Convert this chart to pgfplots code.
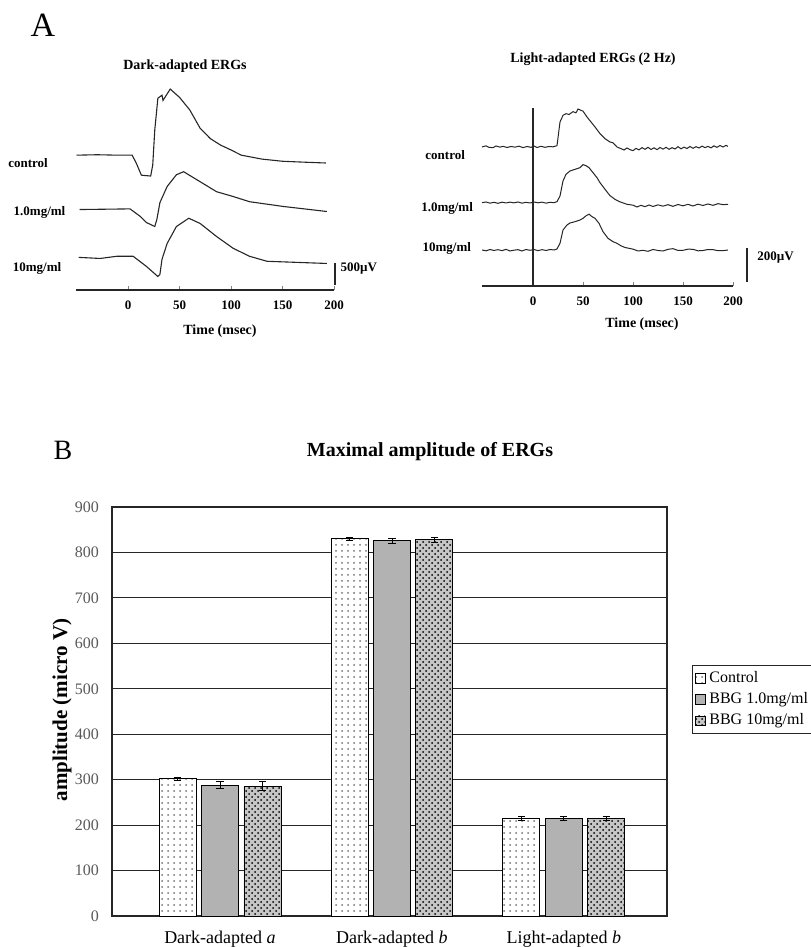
\documentclass[border=0pt]{standalone}
\usepackage{fontspec}
\setmainfont{Liberation Serif}
\usepackage{pgfplots}
\pgfplotsset{compat=1.18}
\usepackage{pgfplotstable}
\usetikzlibrary{patterns}

% dark-adapted traces: time (ms), amplitude (microV) from baseline
\pgfplotstableread{
t v
-50 0
-30 10
-10 0
4 0
8 -180
13 -460
22 -480
24 -230
26 580
29 1310
33 1380
34 1260
41 1520
50 1330
60 1040
70 620
80 380
90 230
100 120
110 0
130 -90
150 -140
170 -160
192 -180
}\darkctrl
\pgfplotstableread{
t v
-47 0
2 15
12 -160
18 -300
26 -390
28 -230
31 160
38 530
47 800
54 870
70 640
86 410
102 300
118 180
151 70
193 -45
}\darkone
\pgfplotstableread{
t v
-48 0
-27 -25
-11 25
5 25
18 -210
29 -440
31 -390
33 -45
38 320
47 710
59 900
70 780
86 480
102 210
118 25
135 -90
193 -140
}\darkten

% light-adapted traces
\pgfplotstableread{
t v
-51 0
-47 7
-44 -2
-40 -4
-37 6
-33 -1
-30 4
-26 -3
-22 3
-18 -1
-14 5
-10 -4
-6 3
-2 -2
1 6
4 -3
8 4
12 -2
16 3
20 1
24 8
27 150
30 190
33 200
36 195
40 212
43 205
45 228
48 220
50 215
54 180
58 150
62 120
67 80
72 50
77 30
80 25
84 0
88 -10
91 -18
94 -6
97 -16
100 -22
103 -8
106 -17
109 -4
112 -14
115 -2
118 -15
121 -5
124 -16
127 -3
130 -13
133 -2
136 -14
139 -4
142 -12
145 2
148 -11
151 -1
154 -9
157 3
160 -8
163 2
166 -6
169 5
172 -4
175 4
178 -5
181 7
184 -2
187 9
190 0
193 10
195 4
}\lightctrl
\pgfplotstableread{
t v
-51 0
-47 4
-43 -3
-39 2
-35 -4
-31 3
-27 -2
-23 3
-19 -1
-15 4
-11 -3
-7 2
-3 -2
1 4
5 -1
9 3
13 -3
17 2
21 0
24 6
27 40
30 130
33 170
37 190
42 200
47 210
50 228
53 222
56 210
60 180
64 150
67 120
72 80
77 42
82 20
87 5
94 -10
100 -15
104 -26
108 -16
112 -24
116 -14
120 -23
125 -13
130 -21
135 -12
140 -22
145 -11
150 -19
155 -10
160 -20
165 -9
170 -17
175 -8
180 -16
185 -6
190 -12
195 -10
}\lightone
\pgfplotstableread{
t v
-51 0
-47 -5
-43 3
-39 -3
-35 2
-31 -4
-27 4
-23 -6
-19 -1
-15 2
-11 -6
-7 3
-3 -2
1 3
5 -4
9 2
13 -3
17 3
21 0
24 6
27 40
30 120
34 150
37 162
42 170
47 180
50 190
53 205
56 215
59 200
62 190
66 160
70 110
75 70
80 50
84 40
88 25
92 15
96 10
100 5
105 -6
110 -2
115 -8
120 3
125 -3
130 -6
135 4
140 8
145 -3
150 -2
155 5
160 4
165 -5
170 -3
175 3
180 2
185 -4
190 -4
195 0
}\lightten

% bar chart: category, mean, error
\pgfplotstableread{
x y e
0 302 3
1 830 3
2 215 4
}\barctrl
\pgfplotstableread{
x y e
0 288 8
1 826 5
2 215 4
}\barone
\pgfplotstableread{
x y e
0 286 10
1 828 5
2 215 5
}\barten

\pgfplotsset{
  trace axis/.style={
    scale only axis, anchor=south west, clip=false,
    axis x line=bottom, axis line style={-, line width=0.6pt, black!85},
    xtick={0,50,100,150,200}, major tick length=2pt, tick align=inside,
    ticklabel style={font=\bfseries\fontsize{6.5}{7}\selectfont, yshift=-2pt},
    /pgf/number format/assume math mode=true,
  },
  tr/.style={black!85, line width=0.55pt, mark=none},
  sq legend/.style={legend image code/.code={
    \draw[##1] (0pt,-2.3pt) rectangle (4.6pt,2.3pt);}},
  ebar/.style={draw=none, mark=none, forget plot,
    error bars/.cd, y dir=both, y explicit},
}
\newcommand\lab{\bfseries\fontsize{6.5}{7}\selectfont}

\begin{document}
\begin{tikzpicture}
\path[use as bounding box] (0,0) rectangle (405pt,473.5pt);

% ---------- panel A ----------
\node[font=\fontsize{17}{18}\selectfont] at (21.5pt,461pt) {A};
\node[font=\bfseries\fontsize{7}{8}\selectfont] at (92.5pt,440.5pt) {Dark-adapted ERGs};
\node[font=\bfseries\fontsize{7}{8}\selectfont] at (296.5pt,444pt) {Light-adapted ERGs (2 Hz)};
\node[font=\bfseries\fontsize{7}{8}\selectfont] at (110pt,308pt) {Time (msec)};
\node[font=\bfseries\fontsize{7}{8}\selectfont] at (321pt,311.5pt) {Time (msec)};

\begin{axis}[trace axis, at={(38.25pt,328.5pt)},
  width=128.75pt, height=102.2pt,
  xmin=-50, xmax=200, ymin=0, ymax=4700, axis y line=none]
  \addplot[tr] table[x=t, y expr=\thisrow{v}+3100] {\darkctrl};
  \addplot[tr] table[x=t, y expr=\thisrow{v}+1850] {\darkone};
  \addplot[tr] table[x=t, y expr=\thisrow{v}+750] {\darkten};
  \addplot[tr, line width=0.6pt] coordinates {(201,115) (201,620)};
  \node[anchor=east, font=\lab] at (axis cs:-71,2920) {control};
  \node[anchor=east, font=\lab] at (axis cs:-54,1794) {1.0mg/ml};
  \node[anchor=east, font=\lab] at (axis cs:-58,506) {10mg/ml};
  \node[anchor=west, font=\lab, inner sep=1pt] at (axis cs:204,483) {500µV};
\end{axis}

\begin{axis}[trace axis, at={(241pt,330.5pt)},
  width=125.5pt, height=89pt,
  xmin=-51, xmax=200, ymin=0, ymax=1068,
  axis y line=middle, ytick=\empty,
  every inner y axis line/.append style={-}, y axis line style={-}]
  \addplot[tr, line width=0.5pt] table[x=t, y expr=\thisrow{v}+834] {\lightctrl};
  \addplot[tr, line width=0.5pt] table[x=t, y expr=\thisrow{v}+500] {\lightone};
  \addplot[tr, line width=0.5pt] table[x=t, y expr=\thisrow{v}+216] {\lightten};
  \addplot[tr, line width=0.6pt] coordinates {(214,24) (214,228)};
  \node[anchor=east, font=\lab] at (axis cs:-61,786) {control};
  \node[anchor=east, font=\lab] at (axis cs:-53,468) {1.0mg/ml};
  \node[anchor=east, font=\lab] at (axis cs:-55,228) {10mg/ml};
  \node[anchor=west, font=\lab, inner sep=1pt] at (axis cs:222,168) {200µV};
\end{axis}

% ---------- panel B ----------
\node[font=\fontsize{14}{15}\selectfont] at (31.5pt,248.5pt) {B};
\node[font=\bfseries\fontsize{10}{12}\selectfont] at (215pt,247.5pt) {Maximal amplitude of ERGs};
\node[font=\bfseries\fontsize{10.5}{12}\selectfont, rotate=90] at (31pt,118.5pt) {amplitude (micro V)};

\begin{axis}[at={(56pt,15.5pt)}, anchor=south west, scale only axis,
  width=277.5pt, height=204.5pt,
  xmin=-0.628, xmax=2.6, ymin=0, ymax=900,
  ytick={0,100,...,900}, xtick={0,1,2},
  xticklabels={Dark-adapted \textit{a}, Dark-adapted \textit{b}, Light-adapted \textit{b}},
  ymajorgrids, grid style={black!85, line width=0.5pt},
  major tick length=0pt, axis line style={black!85, line width=0.6pt},
  /pgf/number format/assume math mode=true,
  yticklabel style={font=\fontsize{8}{9}\selectfont, text=black!65, xshift=-3pt},
  xticklabel style={font=\fontsize{9}{10}\selectfont, yshift=-4pt},
  legend style={at={(1.045,0.614)}, anchor=north west, draw=black!85,
    font=\fontsize{8}{10}\selectfont, inner xsep=1.5pt, inner ysep=1pt,
    row sep=-0.5pt, cells={anchor=west},
    /tikz/every even column/.append style={column sep=0pt}},
  error bars/error bar style={black, line width=0.4pt},
  error bars/error mark options={rotate=90, mark size=1.8pt, line width=0.4pt},
]
  \addplot[ybar, bar width=0.215, bar shift=-0.247, draw=black, fill=white,
    postaction={pattern=dots, pattern color=black!55}, sq legend]
    table[x=x, y=y] {\barctrl};
  \addlegendentry{Control}
  \addplot[ybar, bar width=0.215, bar shift=0, draw=black, fill=gray!60, sq legend]
    table[x=x, y=y] {\barone};
  \addlegendentry{BBG 1.0mg/ml}
  \addplot[ybar, bar width=0.215, bar shift=0.247, draw=black, fill=gray!45,
    postaction={pattern=crosshatch dots, pattern color=black}, sq legend]
    table[x=x, y=y] {\barten};
  \addlegendentry{BBG 10mg/ml}
  % error bars, placed at each bar's centre
  \addplot[ebar] table[x expr=\thisrow{x}-0.247, y=y, y error=e] {\barctrl};
  \addplot[ebar] table[x=x, y=y, y error=e] {\barone};
  \addplot[ebar] table[x expr=\thisrow{x}+0.247, y=y, y error=e] {\barten};
\end{axis}
\end{tikzpicture}
\end{document}
